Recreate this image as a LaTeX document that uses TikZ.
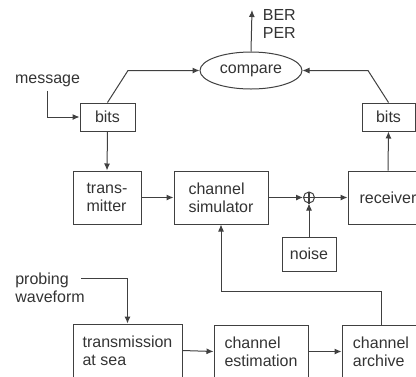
\documentclass[tikz,border=0pt]{standalone}
\usepackage{fontspec}
\setmainfont{Liberation Sans}
\usetikzlibrary{arrows.meta,shapes.geometric}
\begin{document}
\begin{tikzpicture}[x=1pt, y=-1pt, line width=1pt, draw=black!75, text=black!80,
		font={\fontsize{16}{18}\selectfont},
		box/.style = {draw, align=left, inner sep=0pt},
		pfeil/.style = {-{Latex[length=7pt,width=6pt]}}]
		\useasboundingbox (0,0) rectangle (416,376);
		\clip (0,0) rectangle (416,376);
		% obere Reihe
		\node[draw, ellipse, minimum width=102pt, minimum height=37pt, inner sep=0pt] (cmp) at (251,70.5) {compare};
		\node[align=left, anchor=west] (ber) at (259,24) {BER\\PER};
		\node[box, minimum width=55pt, minimum height=28pt] (bitsL) at (107.5,117) {bits};
		\node[box, minimum width=53pt, minimum height=28pt] (bitsR) at (388.5,117) {bits};
		\node (msg) at (47.5,81) {message};
		% mittlere Reihe
		\node[box, minimum width=68pt, minimum height=53pt] (tx) at (107,197.5) {trans-\\mitter};
		\node[box, minimum width=94pt, minimum height=53pt] (sim) at (221,197.5) {channel\\simulator};
		\node[draw, circle, minimum size=11pt, inner sep=0pt] (sum) at (309,197.5) {};
		\node[box, minimum width=80pt, minimum height=53pt] (rx) at (388,197.5) {receiver};
		\node[box, minimum width=54pt, minimum height=34pt] (noise) at (309,254) {noise};
		% untere Reihe
		\node[align=left] (probe) at (50,287.5) {probing\\waveform};
		\coordinate (pw) at (81,278);
		\node[box, minimum width=109pt, minimum height=53pt] (sea) at (127.5,350.5) {transmission\\at sea};
		\node[box, minimum width=94pt, minimum height=53pt] (est) at (261,351.5) {channel\\estimation};
		\node[box, minimum width=78pt, minimum height=53pt] (arch) at (381,351.5) {channel\\archive};
		% Verbindungen
		\draw[line width=1.5pt] (sum.north) -- (sum.south) (sum.west) -- (sum.east);
		\draw[pfeil] (cmp.north) -- (252,10);
		\draw[pfeil] (msg.south) |- (bitsL.west);
		\draw[pfeil] (bitsL.north) -- (128,70.5) -- (cmp.west);
		\draw[pfeil] (bitsR.north) -- (368,70.5) -- (cmp.east);
		\draw[pfeil] (bitsL.south) -- (tx.north);
		\draw[pfeil] (tx.east) -- (sim.west);
		\draw[pfeil] (sim.east) -- (sum.west);
		\draw[pfeil] (sum.east) -- (rx.west);
		\draw[pfeil] (noise.north) -- (sum.south);
		\draw[pfeil] (rx.north) -- (bitsR.south);
		\draw[pfeil] (arch.north) |- (221,291) -- (sim.south);
		\draw[pfeil] (pw) -| (sea.north);
		\draw[pfeil] (sea.east) -- (est.west);
		\draw[pfeil] (est.east) -- (arch.west);
	\end{tikzpicture}
\end{document}
